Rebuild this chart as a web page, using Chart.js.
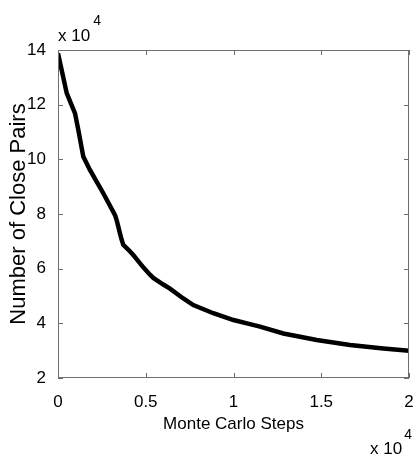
<!DOCTYPE html>
<html>
<head>
<meta charset="utf-8">
<script src="https://cdn.jsdelivr.net/npm/chart.js@4"></script>
<style>
  html, body { margin: 0; padding: 0; background: #fff; }
  #wrap { width: 413px; height: 459px; position: relative; }
</style>
</head>
<body>
<div id="wrap"><canvas id="chart"></canvas></div>
<script>
// Data (steps and pairs in raw units)
const steps = [0, 496, 970, 1160, 1440, 1820, 2580, 3250, 3340, 3440, 3530, 3630, 3720, 4000,
  4290, 4480, 4860, 5240, 5430, 6000, 6380, 7140, 7710, 8850, 10000, 10940, 11510, 12840,
  14740, 16640, 18540, 20000];
const closePairs = [138800, 124200, 116800, 110700, 101000, 96100, 87600, 79600, 77800, 75300,
  72900, 70500, 68700, 67000, 65000, 63500, 60500, 57800, 56600, 54200, 52700, 49100, 46700,
  43700, 41200, 39700, 38800, 36300, 33900, 32100, 30800, 30000];
const xTicks = [0, 5000, 10000, 15000, 20000];
const yTicks = [20000, 40000, 60000, 80000, 100000, 120000, 140000];
const scaleLabel = 'x 10';
const scaleExp = '4';

const FONT = "'Liberation Sans', Arial, sans-serif";

// Box, inward ticks and the "x 10^4" multipliers, like a MATLAB plot
const matlabAxes = {
  id: 'matlabAxes',
  afterDraw(chart) {
    const { ctx, chartArea: a, scales } = chart;
    ctx.save();
    ctx.strokeStyle = '#6e6e6e';
    ctx.lineWidth = 1;
    ctx.strokeRect(a.left + 0.5, a.top + 0.5, a.right - a.left - 1, a.bottom - a.top - 1);
    const len = 5;
    ctx.beginPath();
    xTicks.forEach((v) => {
      const px = Math.round(scales.x.getPixelForValue(v)) + 0.5;
      ctx.moveTo(px, a.bottom); ctx.lineTo(px, a.bottom - len);
      ctx.moveTo(px, a.top); ctx.lineTo(px, a.top + len);
    });
    yTicks.forEach((v) => {
      const py = Math.round(scales.y.getPixelForValue(v)) + 0.5;
      ctx.moveTo(a.left, py); ctx.lineTo(a.left + len, py);
      ctx.moveTo(a.right, py); ctx.lineTo(a.right - len, py);
    });
    ctx.stroke();

    ctx.fillStyle = '#000';
    ctx.textBaseline = 'middle';
    ctx.textAlign = 'left';
    // top-left multiplier for the y axis
    ctx.font = '17px ' + FONT;
    ctx.fillText(scaleLabel, a.left, 36);
    let w = ctx.measureText(scaleLabel).width;
    ctx.font = '14px ' + FONT;
    ctx.fillText(scaleExp, a.left + w + 3, 21);
    // bottom-right multiplier for the x axis
    ctx.font = '17px ' + FONT;
    w = ctx.measureText(scaleLabel).width;
    ctx.fillText(scaleLabel, 370, 449);
    ctx.font = '14px ' + FONT;
    ctx.fillText(scaleExp, 370 + w + 2, 435);
    ctx.restore();
  },
};

const ctx = document.getElementById('chart').getContext('2d');
new Chart(ctx, {
  type: 'line',
  data: {
    datasets: [
      {
        data: steps.map((s, i) => ({ x: s, y: closePairs[i] })),
        borderColor: '#000',
        borderWidth: 4.5,
        pointRadius: 0,
        tension: 0,
        fill: false,
      },
    ],
  },
  options: {
    responsive: true,
    maintainAspectRatio: false,
    animation: false,
    layout: { padding: { top: 50, right: 4, bottom: 0, left: 0 } },
    plugins: { legend: { display: false }, tooltip: { enabled: false } },
    scales: {
      x: {
        type: 'linear',
        min: 0,
        max: 20000,
        afterFit: (s) => { s.height = 81; s.paddingLeft = 0; s.paddingRight = 0; },
        afterBuildTicks: (s) => { s.ticks = xTicks.map((v) => ({ value: v })); },
        grid: { display: false },
        border: { display: false },
        ticks: {
          color: '#000',
          font: { family: FONT, size: 17 },
          padding: 6,
          maxRotation: 0,
          callback: (v) => String(v / 10000),
        },
        title: {
          display: true,
          text: 'Monte Carlo Steps',
          color: '#000',
          font: { family: FONT, size: 17 },
          padding: { top: 0, bottom: 24 },
        },
      },
      y: {
        min: 20000,
        max: 140000,
        afterFit: (s) => { s.width = 58; s.paddingTop = 0; s.paddingBottom = 0; },
        afterBuildTicks: (s) => { s.ticks = yTicks.map((v) => ({ value: v })); },
        grid: { display: false },
        border: { display: false },
        ticks: {
          color: '#000',
          font: { family: FONT, size: 17 },
          padding: 4,
          callback: (v) => String(v / 10000),
        },
        title: {
          display: true,
          text: 'Number of Close Pairs',
          color: '#000',
          font: { family: FONT, size: 22 },
          padding: { top: 6, bottom: 0 },
        },
      },
    },
  },
  plugins: [matlabAxes],
});
</script>
</body>
</html>
